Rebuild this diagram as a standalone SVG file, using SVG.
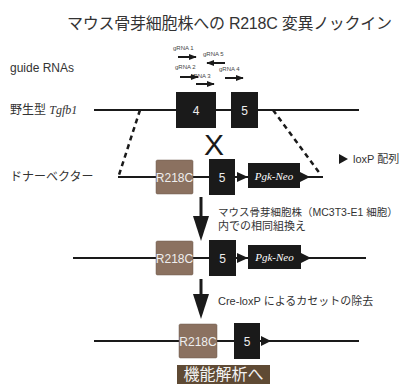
<svg xmlns="http://www.w3.org/2000/svg" width="402" height="384" viewBox="0 0 402 384">
<defs>
<style>
.t{font-family:"Liberation Sans","Noto Sans CJK JP",sans-serif;fill:#333}
.g{font-family:"Liberation Sans",sans-serif;font-size:6px;fill:#444}
.ln{stroke:#1a1a1a;stroke-width:2;fill:none}
.dash{stroke:#1a1a1a;stroke-width:2.5;stroke-dasharray:5,4;fill:none}
.blk{fill:#1a1a1a}
.mut{fill:#8b7160;stroke:#6f5a4c;stroke-width:0.5}
.wt{font-family:"Liberation Sans",sans-serif;font-size:12px;fill:#eee;text-anchor:middle}
.neo{font-family:"Liberation Serif",serif;font-style:italic;font-size:11px;fill:#fff;text-anchor:middle}
</style>
<marker id="ga" viewBox="0 0 10 10" refX="9" refY="5" markerWidth="4" markerHeight="4" orient="auto"><path d="M0,1 L10,5 L0,9 z" fill="#1a1a1a"/></marker>
</defs>
<rect width="402" height="384" fill="#fff"/>
<text class="t" x="67" y="29" font-size="16" textLength="325">マウス骨芽細胞株への R218C 変異ノックイン</text>
<text class="t" x="10" y="72" font-size="12">guide RNAs</text>
<text class="t" x="10" y="114" font-size="12">野生型 <tspan font-family="Liberation Serif,serif" font-style="italic">Tgfb1</tspan></text>
<text class="t" x="10" y="181" font-size="12">ドナーベクター</text>
<g id="grna">
<text class="g" x="173" y="50">gRNA 1</text>
<text class="g" x="203" y="56">gRNA 5</text>
<text class="g" x="175" y="69">gRNA 2</text>
<text class="g" x="190" y="78">gRNA 3</text>
<text class="g" x="219" y="71">gRNA 4</text>
</g>
<g id="connectors">
<line class="ln" x1="178" y1="57" x2="196" y2="57" marker-end="url(#ga)"/>
<line class="ln" x1="225" y1="63" x2="207" y2="63" marker-end="url(#ga)"/>
<line class="ln" x1="180" y1="77" x2="198" y2="77" marker-end="url(#ga)"/>
<line class="ln" x1="196" y1="84" x2="214" y2="84" marker-end="url(#ga)"/>
<line class="ln" x1="225" y1="78" x2="243" y2="78" marker-end="url(#ga)"/>
<line class="ln" x1="94" y1="110" x2="359" y2="110"/>
<line class="dash" x1="140" y1="110" x2="119" y2="175"/>
<line class="dash" x1="273" y1="110" x2="321" y2="175"/>
<line class="ln" x1="118" y1="177" x2="323" y2="177"/>
<line class="ln" x1="73" y1="258" x2="366" y2="258"/>
<line class="ln" x1="94" y1="341" x2="359" y2="341"/>
<line stroke="#1a1a1a" stroke-width="3" x1="201" y1="197" x2="201" y2="218"/>
<path d="M193,216 L209,216 L201,241 z" fill="#1a1a1a"/>
<line stroke="#1a1a1a" stroke-width="3" x1="201" y1="279" x2="201" y2="296"/>
<path d="M193,294 L209,294 L201,319 z" fill="#1a1a1a"/>
</g>
<g id="wt-exon4"><rect class="blk" x="176" y="92" width="40" height="36"/><text class="wt" x="196" y="115">4</text></g>
<g id="wt-exon5"><rect class="blk" x="231" y="92" width="27" height="36"/><text class="wt" x="244.5" y="115">5</text></g>
<text x="214" y="155" font-family="Liberation Sans,sans-serif" font-size="30" fill="#1a1a1a" text-anchor="middle">X</text>
<g id="donor-r218c"><rect class="mut" x="156" y="160" width="37" height="34" rx="1.5"/><text class="wt" x="174.5" y="181.5">R218C</text></g>
<g id="donor-exon5"><rect class="blk" x="209" y="159" width="26" height="36"/><text class="wt" x="222" y="181.5">5</text></g>
<path id="donor-loxp1" d="M237,172 L248,177 L237,182 z" fill="#1a1a1a"/>
<g id="donor-neo"><rect class="blk" x="248" y="163" width="52" height="25"/><text class="neo" x="274" y="180">Pgk-Neo</text></g>
<path id="donor-loxp2" d="M300,172 L310,177 L300,182 z" fill="#1a1a1a"/>
<g id="legend"><path d="M339,154 L348,159 L339,164 z" fill="#1a1a1a"/><text class="t" x="353" y="163" font-size="11">loxP 配列</text></g>
<text class="t" x="218" y="216" font-size="10.5">マウス骨芽細胞株（MC3T3-E1 細胞）</text>
<text class="t" x="218" y="230" font-size="11">内での相同組換え</text>
<g id="rec-r218c"><rect class="mut" x="156" y="241" width="37" height="34" rx="1.5"/><text class="wt" x="174.5" y="262.5">R218C</text></g>
<g id="rec-exon5"><rect class="blk" x="209" y="240" width="27" height="36"/><text class="wt" x="222.5" y="262.5">5</text></g>
<path d="M237,253 L248,258 L237,263 z" fill="#1a1a1a"/>
<g id="rec-neo"><rect class="blk" x="248" y="245" width="53" height="24"/><text class="neo" x="274.5" y="261">Pgk-Neo</text></g>
<path d="M301,253 L311,258 L301,263 z" fill="#1a1a1a"/>
<text class="t" x="218" y="305" font-size="11">Cre-loxP によるカセットの除去</text>
<g id="fin-r218c"><rect class="mut" x="179" y="324" width="38" height="34" rx="1.5"/><text class="wt" x="198" y="345.5">R218C</text></g>
<g id="fin-exon5"><rect class="blk" x="234" y="323" width="26" height="36"/><text class="wt" x="247" y="345.5">5</text></g>
<path d="M261,336 L271,341 L261,346 z" fill="#1a1a1a"/>
<g id="analysis"><rect x="177" y="365" width="93" height="22" fill="#5f4a34"/><text x="223.5" y="380" font-family="Noto Sans CJK JP,sans-serif" font-size="16" fill="#f2f2f2" text-anchor="middle">機能解析へ</text></g>
</svg>
